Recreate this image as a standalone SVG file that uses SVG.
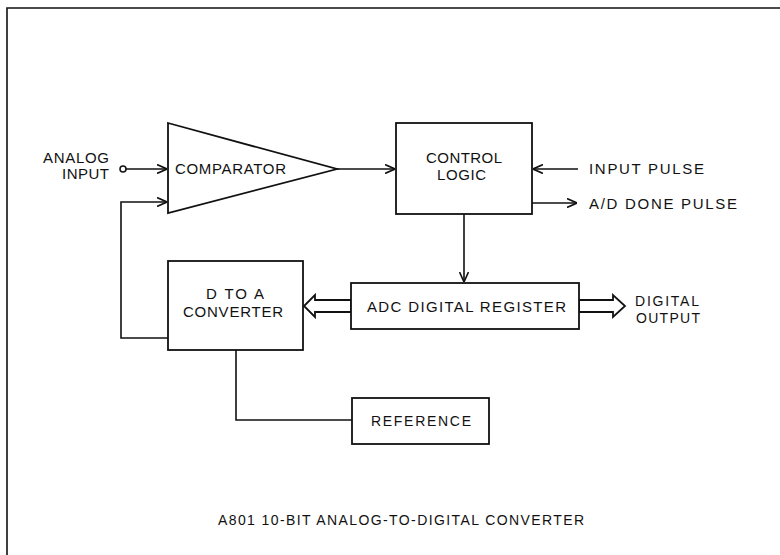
<svg xmlns="http://www.w3.org/2000/svg" width="780" height="555" viewBox="0 0 780 555">
<defs>
<style>
.ln{fill:none;stroke:#111;stroke-width:1.6}
.box{fill:#fff;stroke:#111;stroke-width:1.8}
.t{font-family:"Liberation Sans","DejaVu Sans",sans-serif;font-size:15px;fill:#111;letter-spacing:1px}
.s{font-family:"Liberation Sans","DejaVu Sans",sans-serif;font-size:14px;fill:#111}
</style>
<marker id="ah" viewBox="0 0 10 10" refX="10" refY="5" markerWidth="10" markerHeight="10" markerUnits="userSpaceOnUse" orient="auto">
<path d="M0,0.5 L10,5 L0,9.5" fill="none" stroke="#111" stroke-width="1.6"/>
</marker>
</defs>
<rect width="780" height="555" fill="#fff"/>
<path class="ln" d="M7,555 L7,8 L780,8"/>

<g id="connectors">
<line class="ln" x1="126" y1="169" x2="167" y2="169" marker-end="url(#ah)"/>
<line class="ln" x1="337" y1="169" x2="395" y2="169" marker-end="url(#ah)"/>
<line class="ln" x1="578" y1="169" x2="533" y2="169" marker-end="url(#ah)"/>
<line class="ln" x1="532" y1="203" x2="577" y2="203" marker-end="url(#ah)"/>
<line class="ln" x1="464" y1="214" x2="464" y2="282" marker-end="url(#ah)"/>
<polyline class="ln" points="168,338 121,338 121,202 167,202" marker-end="url(#ah)"/>
<polyline class="ln" points="236,350 236,420 352,420"/>
<polygon class="box" stroke-width="1.5" points="351,300 315,300 315,295 304,306 315,317 315,312 351,312"/>
<polygon class="box" stroke-width="1.5" points="579,300 613,300 613,295 625,306 613,317 613,312 579,312"/>
</g>

<g id="analog-input">
<circle cx="123" cy="169" r="3" fill="#fff" stroke="#111" stroke-width="1.5"/>
<text class="t" x="43" y="163" textLength="67" lengthAdjust="spacing">ANALOG</text>
<text class="t" x="62" y="179" textLength="48" lengthAdjust="spacing">INPUT</text>
</g>

<g id="comparator">
<polygon class="box" points="168,123 337,169 168,213"/>
<text class="t" x="175" y="174" textLength="112" lengthAdjust="spacing">COMPARATOR</text>
</g>

<g id="control-logic">
<rect class="box" x="396" y="123" width="136" height="91"/>
<text class="t" x="426" y="163" textLength="77" lengthAdjust="spacing">CONTROL</text>
<text class="t" x="437" y="180" textLength="50" lengthAdjust="spacing">LOGIC</text>
</g>

<g id="input-pulse">
<text class="t" x="589" y="174" textLength="116" lengthAdjust="spacing">INPUT PULSE</text>
</g>

<g id="ad-done-pulse">
<text class="t" x="589" y="209" textLength="149" lengthAdjust="spacing">A/D DONE PULSE</text>
</g>

<g id="d-to-a">
<rect class="box" x="168" y="261" width="135" height="89"/>
<text class="t" x="206" y="299" textLength="59" lengthAdjust="spacing">D TO A</text>
<text class="t" x="183" y="317" textLength="101" lengthAdjust="spacing">CONVERTER</text>
</g>

<g id="adc-register">
<rect class="box" x="351" y="283" width="228" height="46"/>
<text class="t" x="367" y="312" textLength="200" lengthAdjust="spacing">ADC DIGITAL REGISTER</text>
</g>

<g id="digital-output">
<text class="t" style="font-size:14px" x="635" y="306" textLength="65" lengthAdjust="spacing">DIGITAL</text>
<text class="t" style="font-size:14px" x="636" y="323" textLength="65" lengthAdjust="spacing">OUTPUT</text>
</g>

<g id="reference">
<rect class="box" x="352" y="398" width="137" height="46"/>
<text class="s" x="371" y="426" textLength="100" lengthAdjust="spacing">REFERENCE</text>
</g>

<text class="s" x="218" y="525" textLength="366" lengthAdjust="spacing">A801 10-BIT ANALOG-TO-DIGITAL CONVERTER</text>
</svg>
